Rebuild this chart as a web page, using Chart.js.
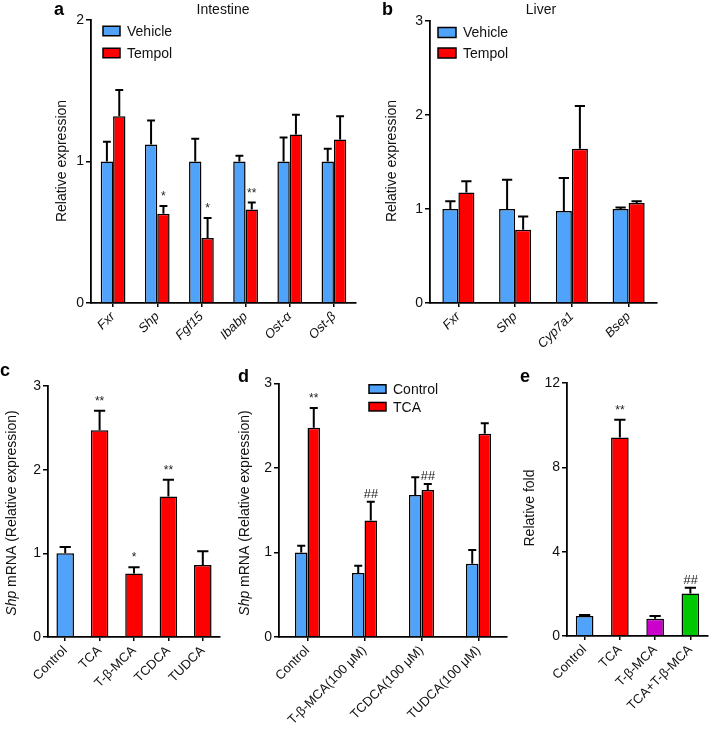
<!DOCTYPE html>
<html>
<head>
<meta charset="utf-8">
<script src="https://cdn.jsdelivr.net/npm/chart.js@4.4.0/dist/chart.umd.min.js"></script>
<style>
body { margin: 0; background: #fff; }
#wrap { position: relative; width: 709px; height: 733px; }
#wrap canvas { position: absolute; left: 0; top: 0; }
</style>
</head>
<body>
<div id="wrap">
  <canvas id="chartA" width="709" height="733"></canvas>
  <canvas id="chartB" width="709" height="733"></canvas>
  <canvas id="chartC" width="709" height="733"></canvas>
  <canvas id="chartD" width="709" height="733"></canvas>
  <canvas id="chartE" width="709" height="733"></canvas>
</div>
<script>
// panel a - intestine
const genesA = ['Fxr', 'Shp', 'Fgf15', 'Ibabp', 'Ost-α', 'Ost-β'];
const vehicleA = [1.0, 1.12, 1.0, 1.0, 1.0, 1.0];
const vehicleErrA = [0.14, 0.17, 0.16, 0.04, 0.17, 0.09];
const tempolA = [1.32, 0.63, 0.46, 0.66, 1.19, 1.155];
const tempolErrA = [0.185, 0.055, 0.14, 0.05, 0.14, 0.165];
const tempolSigA = ['', '*', '*', '**', '', ''];

// panel b - liver
const genesB = ['Fxr', 'Shp', 'Cyp7a1', 'Bsep'];
const vehicleB = [1.0, 1.0, 0.98, 1.0];
const vehicleErrB = [0.083, 0.31, 0.35, 0.015];
const tempolB = [1.175, 0.78, 1.64, 1.065];
const tempolErrB = [0.12, 0.14, 0.455, 0.018];

// panel c
const groupsC = ['Control', 'TCA', 'T-β-MCA', 'TCDCA', 'TUDCA'];
const shpC = [1.0, 2.47, 0.76, 1.68, 0.86];
const shpErrC = [0.075, 0.235, 0.075, 0.2, 0.165];
const sigC = ['', '**', '*', '**', ''];

// panel d
const groupsD = ['Control', 'T-β-MCA(100 μM)', 'TCDCA(100 μM)', 'TUDCA(100 μM)'];
const controlD = [1.0, 0.756, 1.68, 0.866];
const controlErrD = [0.079, 0.087, 0.21, 0.164];
const tcaD = [2.476, 1.378, 1.74, 2.405];
const tcaErrD = [0.234, 0.222, 0.07, 0.125];
const tcaSigD = ['**', '##', '##', ''];

// panel e
const groupsE = ['Control', 'TCA', 'T-β-MCA', 'TCA+T-β-MCA'];
const foldE = [0.95, 9.41, 0.82, 2.02];
const foldErrE = [0.05, 0.85, 0.13, 0.27];
const sigE = ['', '**', '', '##'];

const BLUE = '#4fa3fb';
const RED = '#ff0000';
const MAGENTA = '#cc00cc';
const GREEN = '#00c800';
const FONT = '"Liberation Sans", Arial, Helvetica, sans-serif';

Chart.defaults.font.family = FONT;
Chart.defaults.color = '#111';

// error bars + significance marks, drawn through the y scale
const errorBars = {
    id: 'errorBars',
    afterDatasetsDraw(chart) {
        const ctx = chart.ctx;
        const yScale = chart.scales.y;
        chart.data.datasets.forEach((ds, i) => {
            const meta = chart.getDatasetMeta(i);
            meta.data.forEach((bar, j) => {
                const top = yScale.getPixelForValue(ds.data[j] + ds.errors[j]);
                const cap = bar.width * 0.32;
                ctx.save();
                ctx.strokeStyle = '#000';
                ctx.lineWidth = 2;
                ctx.beginPath();
                ctx.moveTo(bar.x, bar.y);
                ctx.lineTo(bar.x, top);
                ctx.moveTo(bar.x - cap, top);
                ctx.lineTo(bar.x + cap, top);
                ctx.stroke();
                const s = ds.sig ? ds.sig[j] : '';
                if (s) {
                    ctx.fillStyle = '#222';
                    ctx.textAlign = 'center';
                    ctx.textBaseline = 'alphabetic';
                    if (s[0] === '*') {
                        ctx.font = '12px ' + FONT;
                        ctx.fillText(s, bar.x, top - 6);
                    } else {
                        ctx.font = 'italic 13px ' + FONT;
                        ctx.fillText(s, bar.x, top - 4);
                    }
                }
                ctx.restore();
            });
        });
    }
};

// panel letter, title, y title and legend
const decor = {
    id: 'decor',
    afterDraw(chart, args, o) {
        const ctx = chart.ctx;
        ctx.save();
        ctx.fillStyle = '#000';
        if (o.letter) {
            ctx.font = 'bold 18px ' + FONT;
            ctx.textAlign = 'left';
            ctx.textBaseline = 'alphabetic';
            ctx.fillText(o.letter, o.letterX, o.letterY);
        }
        if (o.title) {
            ctx.font = '14px ' + FONT;
            ctx.textAlign = 'center';
            ctx.textBaseline = 'middle';
            ctx.fillStyle = '#111';
            ctx.fillText(o.title, o.titleX, o.titleY);
        }
        if (o.yTitle) {
            ctx.save();
            ctx.translate(o.yTitleX, o.yTitleY);
            ctx.rotate(-Math.PI / 2);
            ctx.textBaseline = 'middle';
            ctx.textAlign = 'left';
            ctx.fillStyle = '#111';
            let total = 0;
            o.yTitle.forEach(p => {
                ctx.font = (p.italic ? 'italic ' : '') + '14px ' + FONT;
                total += ctx.measureText(p.text).width;
            });
            let x = -total / 2;
            o.yTitle.forEach(p => {
                ctx.font = (p.italic ? 'italic ' : '') + '14px ' + FONT;
                ctx.fillText(p.text, x, 0);
                x += ctx.measureText(p.text).width;
            });
            ctx.restore();
        }
        if (o.legend) {
            const L = o.legend;
            chart.data.datasets.forEach((ds, i) => {
                const cy = L.y + i * L.step;
                ctx.fillStyle = ds.backgroundColor;
                ctx.fillRect(L.x, cy - L.h / 2, L.w, L.h);
                ctx.strokeStyle = '#000';
                ctx.lineWidth = 1.5;
                ctx.strokeRect(L.x, cy - L.h / 2, L.w, L.h);
                ctx.fillStyle = '#111';
                ctx.font = '14px ' + FONT;
                ctx.textAlign = 'left';
                ctx.textBaseline = 'middle';
                ctx.fillText(ds.label, L.x + L.w + 7, cy + 1);
            });
        }
        ctx.restore();
    }
};

// area = [left, right, top, bottom] of the plot box; yW / xH = room for tick labels
function makeChart(id, area, yW, xH, labels, datasets, yMax, yStep, catPct, italicX, decorOpts) {
    return new Chart(document.getElementById(id).getContext('2d'), {
        type: 'bar',
        data: { labels: labels, datasets: datasets },
        options: {
            responsive: false,
            animation: false,
            events: [],
            layout: {
                padding: { left: area[0] - yW, right: 709 - area[1], top: area[2], bottom: 733 - area[3] - xH }
            },
            datasets: {
                bar: {
                    categoryPercentage: catPct,
                    barPercentage: 1.0,
                    borderColor: '#000',
                    borderWidth: 1.5
                }
            },
            plugins: {
                legend: { display: false },
                tooltip: { enabled: false },
                decor: decorOpts
            },
            scales: {
                x: {
                    afterFit(s) { s.height = xH; },
                    grid: { offset: false, drawOnChartArea: false, tickLength: 4, color: '#000', lineWidth: 1.5 },
                    border: { color: '#000', width: 1.8 },
                    ticks: {
                        autoSkip: false, minRotation: 45, maxRotation: 45, padding: 2,
                        font: { size: 13, style: italicX ? 'italic' : 'normal' }
                    }
                },
                y: {
                    min: 0, max: yMax,
                    afterFit(s) { s.width = yW; },
                    grid: { drawOnChartArea: false, tickLength: 5, color: '#000', lineWidth: 1.5 },
                    border: { color: '#000', width: 1.8 },
                    ticks: { stepSize: yStep, padding: 2, font: { size: 14 } }
                }
            }
        },
        plugins: [errorBars, decor]
    });
}

makeChart('chartA', [91, 356, 20, 303], 30, 60, genesA, [
    { label: 'Vehicle', data: vehicleA, errors: vehicleErrA, backgroundColor: BLUE },
    { label: 'Tempol', data: tempolA, errors: tempolErrA, sig: tempolSigA, backgroundColor: RED }
], 2, 1, 0.56, true, {
    letter: 'a', letterX: 54, letterY: 15,
    title: 'Intestine', titleX: 223, titleY: 10,
    yTitle: [{ text: 'Relative expression' }], yTitleX: 62, yTitleY: 161,
    legend: { x: 103, y: 31, step: 22, w: 17, h: 9.5 }
});

makeChart('chartB', [430, 657, 21, 303], 30, 60, genesB, [
    { label: 'Vehicle', data: vehicleB, errors: vehicleErrB, backgroundColor: BLUE },
    { label: 'Tempol', data: tempolB, errors: tempolErrB, backgroundColor: RED }
], 3, 1, 0.565, true, {
    letter: 'b', letterX: 382, letterY: 15,
    title: 'Liver', titleX: 541, titleY: 10,
    yTitle: [{ text: 'Relative expression' }], yTitleX: 392, yTitleY: 161,
    legend: { x: 438, y: 32.5, step: 20.5, w: 18, h: 10 }
});

makeChart('chartC', [48, 220, 386, 637], 30, 90, groupsC, [
    { label: 'Shp', data: shpC, errors: shpErrC, sig: sigC,
      backgroundColor: [BLUE, RED, RED, RED, RED] }
], 3, 1, 0.51, false, {
    letter: 'c', letterX: 0, letterY: 376,
    yTitle: [{ text: 'Shp', italic: true }, { text: ' mRNA (Relative expression)' }], yTitleX: 12, yTitleY: 513
});

makeChart('chartD', [279, 507, 383.5, 637], 30, 96, groupsD, [
    { label: 'Control', data: controlD, errors: controlErrD, backgroundColor: BLUE },
    { label: 'TCA', data: tcaD, errors: tcaErrD, sig: tcaSigD, backgroundColor: RED }
], 3, 1, 0.44, false, {
    letter: 'd', letterX: 238, letterY: 382,
    yTitle: [{ text: 'Shp', italic: true }, { text: ' mRNA (Relative expression)' }], yTitleX: 245, yTitleY: 513,
    legend: { x: 369, y: 389, step: 17.7, w: 17, h: 8.5 }
});

makeChart('chartE', [567, 708, 383, 636], 30, 97, groupsE, [
    { label: 'Relative fold', data: foldE, errors: foldErrE, sig: sigE,
      backgroundColor: [BLUE, RED, MAGENTA, GREEN] }
], 12, 4, 0.5, false, {
    letter: 'e', letterX: 520, letterY: 382,
    yTitle: [{ text: 'Relative fold' }], yTitleX: 530, yTitleY: 508
});
</script>
</body>
</html>
